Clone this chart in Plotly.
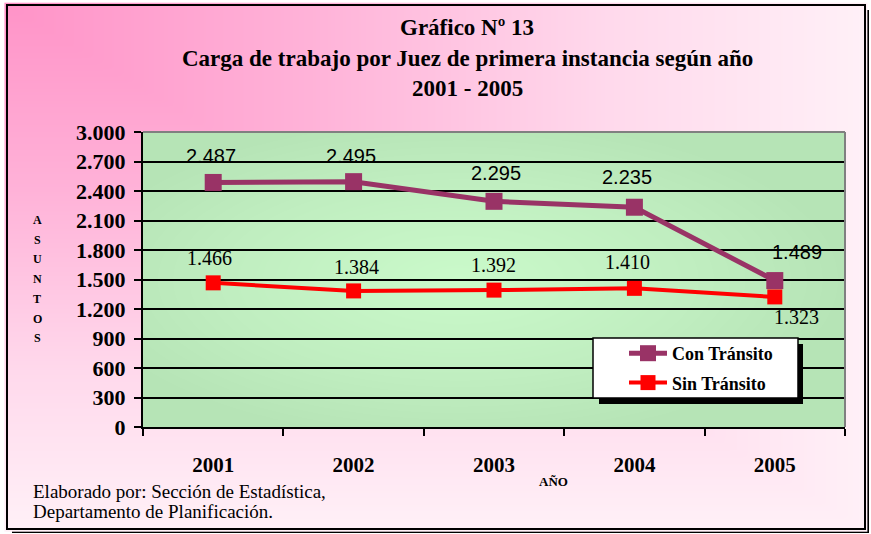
import numpy as np
import plotly.graph_objects as go

# ---------------- data ----------------
years = ["2001", "2002", "2003", "2004", "2005"]
con_transito = [2487, 2495, 2295, 2235, 1489]
sin_transito = [1466, 1384, 1392, 1410, 1323]
con_labels = ["2.487", "2.495", "2.295", "2.235", "1.489"]
sin_labels = ["1.466", "1.384", "1.392", "1.410", "1.323"]
y_tickvals = [0, 300, 600, 900, 1200, 1500, 1800, 2100, 2400, 2700, 3000]
y_ticktext = ["0", "300", "600", "900", "1.200", "1.500", "1.800", "2.100", "2.400", "2.700", "3.000"]
title_lines = ["Gráfico Nº 13", "Carga de trabajo por Juez de primera instancia según año", "2001 - 2005"]
y_title_letters = list("ASUNTOS")
footer_lines = ["Elaborado por: Sección de Estadística,", "Departamento de Planificación."]

# ---------------- geometry / style ----------------
W, H = 871, 534
def px(x):
    return x / W
def py(y):
    return 1 - y / H

PL, PR, PT, PB = 143, 845, 132, 427  # plot area in pixels
CON_COLOR = "#993366"
SIN_COLOR = "#ff0000"
SERIF = "Liberation Serif, Times New Roman, serif"
SANS = "Liberation Sans, Arial, sans-serif"

fig = go.Figure()

# pink background gradient (from top-left corner)
FX0, FY0, FX1, FY1 = 8, 6, 864, 528
gx = np.linspace(FX0, FX1, 120)
gy = np.linspace(FY0, FY1, 80)
GX, GY = np.meshgrid(gx, gy)
tp = np.maximum((GX - FX0) / (FX1 - FX0), (GY - FY0) / (FY1 - FY0))
fig.add_trace(go.Heatmap(
    x=gx, y=gy, z=tp, zsmooth="best", showscale=False, hoverinfo="skip",
    colorscale=[[0, "#ff94c8"], [0.35, "#ffb2d8"], [0.7, "#ffd9ec"], [1, "#fff0f7"]],
    zmin=0, zmax=1, xaxis="x", yaxis="y", showlegend=False))

# green plot-area gradient (lighter centre)
hx = np.linspace(0, 1, 100)
hy = np.linspace(0, 1, 60)
HX, HY = np.meshgrid(hx, hy)
tg = np.clip(np.sqrt(((HX - 0.45) / 0.55) ** 2 + ((HY - 0.5) / 0.55) ** 2), 0, 1)
fig.add_trace(go.Heatmap(
    x=hx, y=hy, z=tg, zsmooth="best", showscale=False, hoverinfo="skip",
    colorscale=[[0, "#cafaca"], [0.6, "#c0eec0"], [1, "#b6e4b6"]],
    zmin=0, zmax=1, xaxis="x2", yaxis="y2", showlegend=False))

# data series
fig.add_trace(go.Scatter(
    x=years, y=con_transito, name="<b>Con Tránsito</b>", mode="lines+markers",
    line=dict(color=CON_COLOR, width=5), legendgroup="con",
    marker=dict(symbol="square", size=17, color=CON_COLOR),
    xaxis="x3", yaxis="y3", hoverinfo="skip"))
fig.add_trace(go.Scatter(
    x=years, y=sin_transito, name="<b>Sin Tránsito</b>", mode="lines+markers",
    line=dict(color=SIN_COLOR, width=4), legendgroup="sin",
    marker=dict(symbol="square", size=15, color=SIN_COLOR),
    xaxis="x3", yaxis="y3", hoverinfo="skip"))

annotations = []
# data labels (x given as category index)
con_shift = [(-2, 26), (-3, 26), (2, 28), (-7, 30), (22, 29)]
sin_shift = [(-4, 25), (3, 24), (-1, 25), (-7, 26), (22, -20)]
for i in range(len(years)):
    annotations.append(dict(x=i, y=con_transito[i], xref="x3", yref="y3", text=con_labels[i],
                            showarrow=False, xshift=con_shift[i][0], yshift=con_shift[i][1],
                            font=dict(family=SANS, size=20, color="black")))
    annotations.append(dict(x=i, y=sin_transito[i], xref="x3", yref="y3", text=sin_labels[i],
                            showarrow=False, xshift=sin_shift[i][0], yshift=sin_shift[i][1],
                            font=dict(family=SERIF, size=20, color="black")))

# title lines
for i, t in enumerate(title_lines):
    annotations.append(dict(x=px(467), y=py(27 + 31 * i), xref="paper", yref="paper", text="<b>" + t + "</b>",
                            showarrow=False, xanchor="center", yanchor="middle",
                            font=dict(family=SERIF, size=23, color="black")))
# y title letters
for i, ch in enumerate(y_title_letters):
    annotations.append(dict(x=px(37), y=py(220 + 19.7 * i), xref="paper", yref="paper", text="<b>" + ch + "</b>",
                            showarrow=False, xanchor="center", yanchor="middle",
                            font=dict(family=SERIF, size=12, color="black")))
# x title
annotations.append(dict(x=px(553), y=py(481), xref="paper", yref="paper", text="<b>AÑO</b>",
                        showarrow=False, xanchor="center", yanchor="middle",
                        font=dict(family=SERIF, size=13, color="black")))
# footer
for i, t in enumerate(footer_lines):
    annotations.append(dict(x=px(31), y=py(491 + 20 * i), xref="paper", yref="paper", text=t,
                            showarrow=False, xanchor="left", yanchor="middle",
                            font=dict(family=SERIF, size=19, color="black")))

shapes = [
    # outer frame shadow
    dict(type="rect", xref="paper", yref="paper", x0=px(12), x1=px(869), y0=py(533), y1=py(10),
         fillcolor="black", line=dict(width=0), layer="below"),
    # outer frame border
    dict(type="rect", xref="paper", yref="paper", x0=px(7), x1=px(865), y0=py(529), y1=py(5),
         fillcolor="rgba(0,0,0,0)", line=dict(color="black", width=2), layer="above"),
    # plot area top/right grey border
    dict(type="line", xref="paper", yref="paper", x0=px(PL), x1=px(PR), y0=py(PT), y1=py(PT),
         line=dict(color="#808080", width=2), layer="above"),
    dict(type="line", xref="paper", yref="paper", x0=px(PR), x1=px(PR), y0=py(PT), y1=py(PB),
         line=dict(color="#808080", width=2), layer="above"),
    # legend shadow and box
    dict(type="rect", xref="paper", yref="paper", x0=px(599), x1=px(803), y0=py(404), y1=py(344),
         fillcolor="black", line=dict(width=0), layer="above"),
    dict(type="rect", xref="paper", yref="paper", x0=px(593), x1=px(798), y0=py(398), y1=py(338),
         fillcolor="white", line=dict(color="black", width=1.5), layer="above"),
]

fig.update_layout(
    width=W, height=H, autosize=False,
    margin=dict(l=0, r=0, t=0, b=0, autoexpand=False),
    paper_bgcolor="white", plot_bgcolor="rgba(0,0,0,0)",
    separators=",.",
    showlegend=True,
    legend=dict(x=px(624), y=py(335), xanchor="left", yanchor="top",
                bgcolor="rgba(0,0,0,0)", borderwidth=0,
                font=dict(family=SERIF, size=18, color="black"),
                tracegroupgap=3, itemwidth=38),
    xaxis=dict(domain=[0, 1], range=[0, W], visible=False, fixedrange=True, automargin=False),
    yaxis=dict(domain=[0, 1], range=[H, 0], visible=False, fixedrange=True, automargin=False),
    xaxis2=dict(domain=[px(PL), px(PR)], range=[0, 1], visible=False, anchor="y2", automargin=False),
    yaxis2=dict(domain=[py(PB), py(PT)], range=[0, 1], visible=False, anchor="x2", automargin=False),
    xaxis3=dict(domain=[px(PL), px(PR)], anchor="y3", type="category", range=[-0.5, 4.5],
                showgrid=False, showline=True, linecolor="black", linewidth=2,
                ticks="outside", tickson="boundaries", ticklen=7, tickwidth=2, tickcolor="black",
                tickfont=dict(family=SERIF, size=21, color="black"), tickangle=0,
                tickprefix="<b>", ticksuffix="</b>",
                ticklabelstandoff=18, zeroline=False, automargin=False),
    yaxis3=dict(domain=[py(PB), py(PT)], anchor="x3", range=[0, 3000],
                tickvals=y_tickvals, ticktext=["<b>" + t + "</b>" for t in y_ticktext],
                showgrid=True, gridcolor="black", gridwidth=2,
                showline=True, linecolor="black", linewidth=2,
                ticks="outside", ticklen=7, tickwidth=2, tickcolor="black",
                tickfont=dict(family=SERIF, size=22, color="black"),
                zeroline=False, ticklabelstandoff=4, automargin=False),
    annotations=annotations,
    shapes=shapes,
)

fig.write_html("out.html", config={"displayModeBar": False, "staticPlot": True},
               post_script="document.body.style.margin='0';document.body.style.overflow='hidden';")
